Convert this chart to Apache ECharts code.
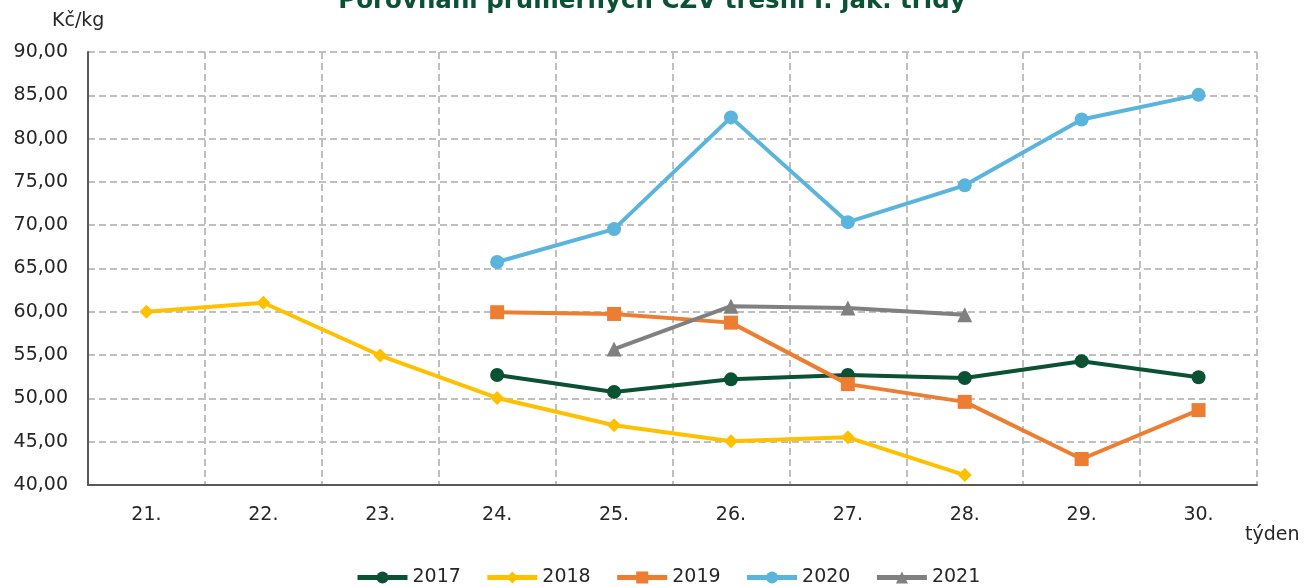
<!DOCTYPE html>
<html>
<head>
<meta charset="utf-8">
<script src="https://cdn.jsdelivr.net/npm/echarts@6/dist/echarts.min.js"></script>
<style>html,body{margin:0;padding:0;background:#fff}#chart{width:1304px;height:587px}</style>
</head>
<body>
<div id="chart"></div>
<script>
var weeks = ['21.', '22.', '23.', '24.', '25.', '26.', '27.', '28.', '29.', '30.'];
var y2017 = [null, null, null, 52.7, 50.75, 52.2, 52.7, 52.35, 54.3, 52.45];
var y2018 = [60.0, 61.05, 54.95, 50.05, 46.9, 45.05, 45.5, 41.15, null, null];
var y2019 = [null, null, null, 59.95, 59.75, 58.75, 51.65, 49.6, 43.0, 48.65];
var y2020 = [null, null, null, 65.75, 69.55, 82.45, 70.35, 74.6, 82.2, 85.05];
var y2021 = [null, null, null, null, 55.7, 60.65, 60.45, 59.65, null, null];

var fnt = 'DejaVu Sans';
var txtColor = '#262626';
var myChart = echarts.init(document.getElementById('chart'));

function ser(name, data, color, symbol, size) {
  return {
    name: name, type: 'line', data: data, connectNulls: false,
    symbol: symbol, symbolSize: size,
    lineStyle: {width: 4, color: color},
    itemStyle: {color: color},
    z: 3
  };
}

var option = {
  animation: false,
  title: {
    text: 'Porovnání průměrných CZV třešní I. jak. třídy',
    left: 'center', top: -16,
    textStyle: {color: '#0b5234', fontFamily: fnt, fontWeight: 'bold', fontSize: 24.5}
  },
  legend: {
    top: 563, left: 350,
    itemWidth: 50, itemHeight: 15, itemGap: 24,
    lineStyle: {width: 5},
    textStyle: {fontFamily: fnt, fontSize: 19, color: txtColor},
    data: ['2017', '2018', '2019', '2020', '2021']
  },
  graphic: [
    {type: 'text', left: 52, top: 12, style: {text: 'Kč/kg', font: '19px DejaVu Sans', fill: txtColor}},
    {type: 'text', left: 1245, top: 526, style: {text: 'týden', font: '19px DejaVu Sans', fill: txtColor}}
  ],
  grid: {left: 88, right: 47, top: 52, bottom: 102},
  xAxis: {
    type: 'category', data: weeks, boundaryGap: true,
    axisLine: {lineStyle: {color: '#595959', width: 2}},
    axisTick: {show: false},
    axisLabel: {fontFamily: fnt, fontSize: 19, color: txtColor, margin: 21},
    splitLine: {show: true, lineStyle: {color: '#bfbfbf', type: [7, 4], width: 2}}
  },
  yAxis: {
    type: 'value', min: 40, max: 90, interval: 5,
    axisLine: {show: true, lineStyle: {color: '#595959', width: 2}},
    axisTick: {show: false},
    axisLabel: {
      fontFamily: fnt, fontSize: 19, color: txtColor, margin: 20,
      formatter: function (v) { return v.toFixed(2).replace('.', ','); }
    },
    splitLine: {show: true, lineStyle: {color: '#bfbfbf', type: [7, 4], width: 2}}
  },
  series: [
    ser('2017', y2017, '#0b5234', 'circle', 14),
    ser('2018', y2018, '#ffc000', 'diamond', 14),
    ser('2019', y2019, '#ed7d31', 'rect', 14),
    ser('2020', y2020, '#5ab4dc', 'circle', 14),
    ser('2021', y2021, '#808080', 'triangle', 15)
  ]
};
myChart.setOption(option);
</script>
</body>
</html>
